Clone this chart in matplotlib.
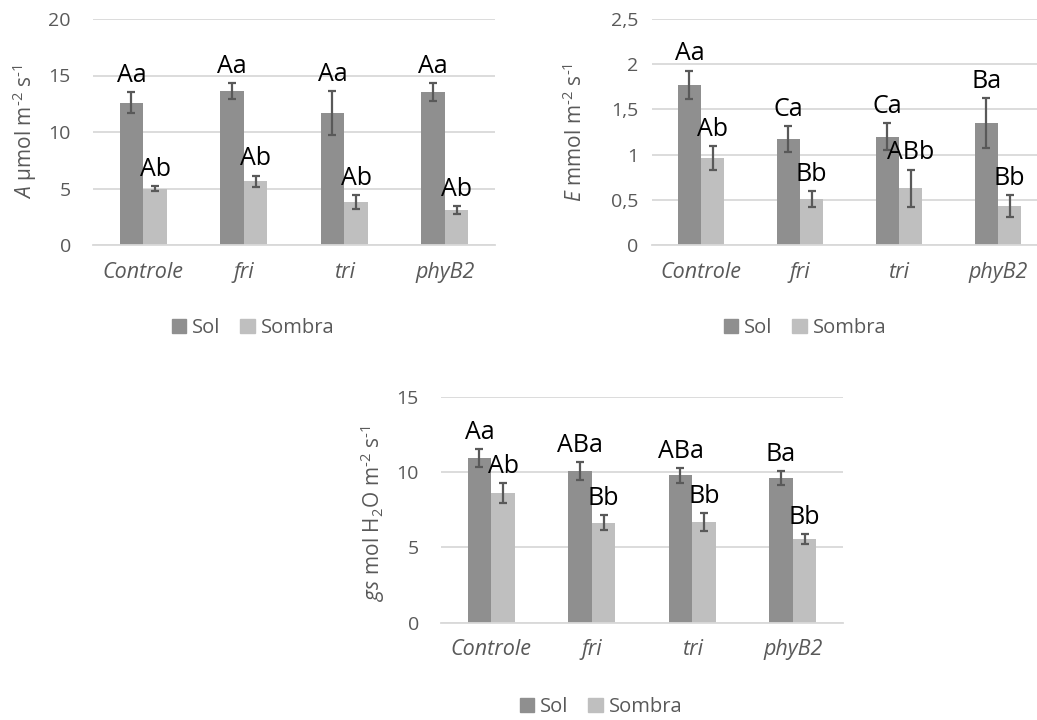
import matplotlib
matplotlib.use('Agg')
import matplotlib.pyplot as plt
from matplotlib.ticker import FuncFormatter, MultipleLocator
from matplotlib.patches import Patch
import numpy as np

plt.rcParams['font.family'] = ['Open Sans', 'DejaVu Sans']
plt.rcParams['mathtext.fontset'] = 'custom'
plt.rcParams['mathtext.rm'] = 'Open Sans'
plt.rcParams['mathtext.it'] = 'Open Sans:italic'

genotypes = ['Controle', 'fri', 'tri', 'phyB2']

# net photosynthesis A
a_sol = [12.6, 13.6, 11.7, 13.5]
a_sol_err = [0.9, 0.7, 1.95, 0.8]
a_sombra = [5.0, 5.65, 3.8, 3.1]
a_sombra_err = [0.25, 0.5, 0.6, 0.38]
a_sol_lbl = ['Aa', 'Aa', 'Aa', 'Aa']
a_sombra_lbl = ['Ab', 'Ab', 'Ab', 'Ab']

# transpiration E
e_sol = [1.77, 1.17, 1.20, 1.35]
e_sol_err = [0.16, 0.145, 0.146, 0.275]
e_sombra = [0.96, 0.51, 0.63, 0.43]
e_sombra_err = [0.135, 0.09, 0.205, 0.12]
e_sol_lbl = ['Aa', 'Ca', 'Ca', 'Ba']
e_sombra_lbl = ['Ab', 'Bb', 'ABb', 'Bb']

# stomatal conductance gs
g_sol = [10.93, 10.07, 9.78, 9.6]
g_sol_err = [0.6, 0.6, 0.49, 0.48]
g_sombra = [8.6, 6.62, 6.66, 5.55]
g_sombra_err = [0.68, 0.5, 0.6, 0.35]
g_sol_lbl = ['Aa', 'ABa', 'ABa', 'Ba']
g_sombra_lbl = ['Ab', 'Bb', 'Bb', 'Bb']

c_sol = '#8F8F8F'
c_sombra = '#BFBFBF'
c_grid = '#D9D9D9'
c_text = '#595959'

W, H = 1037, 720
fig = plt.figure(figsize=(W / 100, H / 100), dpi=100)


def px_axes(left, top, right, bottom):
    return fig.add_axes([left / W, 1 - bottom / H, (right - left) / W, (bottom - top) / H])


def draw(ax, sol, sol_err, sombra, sombra_err, sol_lbl, sombra_lbl, ymax, step, pad, fmt=None):
    x = np.arange(len(genotypes))
    w = 0.235
    ekw = dict(ecolor=c_text, elinewidth=1.6, capsize=3, capthick=1.6)
    ax.bar(x - w / 2, sol, w, yerr=sol_err, color=c_sol, error_kw=ekw, zorder=2)
    ax.bar(x + w / 2, sombra, w, yerr=sombra_err, color=c_sombra, error_kw=ekw, zorder=2)
    for xi, v, e, t in zip(x - w / 2, sol, sol_err, sol_lbl):
        ax.annotate(t, (xi, v + e), xytext=(0, 3), textcoords='offset points',
                    ha='center', va='bottom', fontsize=18, color='black')
    for xi, v, e, t in zip(x + w / 2, sombra, sombra_err, sombra_lbl):
        ax.annotate(t, (xi, v + e), xytext=(0, 3), textcoords='offset points',
                    ha='center', va='bottom', fontsize=18, color='black')
    ax.set_xlim(-0.5, len(genotypes) - 0.5)
    ax.set_ylim(0, ymax)
    ax.yaxis.set_major_locator(MultipleLocator(step))
    if fmt:
        ax.yaxis.set_major_formatter(FuncFormatter(fmt))
    ax.set_xticks(x)
    ax.set_xticklabels(genotypes, fontstyle='italic', fontsize=15.5, color=c_text)
    ax.tick_params(axis='x', length=0, pad=12)
    ax.tick_params(axis='y', length=0, pad=pad, labelsize=14, labelcolor=c_text)
    ax.grid(axis='y', color=c_grid, linewidth=1.3, zorder=0)
    ax.set_axisbelow(True)
    for s in ['top', 'right', 'left']:
        ax.spines[s].set_visible(False)
    ax.spines['bottom'].set_color(c_grid)
    ax.spines['bottom'].set_linewidth(1.3)


def comma(v, pos):
    return f'{v:g}'.replace('.', ',')


ax1 = px_axes(93, 19, 495, 245)
draw(ax1, a_sol, a_sol_err, a_sombra, a_sombra_err, a_sol_lbl, a_sombra_lbl, 20, 5, 16)
fig.text(25 / W, 1 - 132 / H, r'$\mathit{A}$ µmol m$^{‐2}$ s$^{‐1}$', rotation=90,
         ha='center', va='center', fontsize=15, color=c_text)

ax2 = px_axes(651.5, 19, 1047.5, 245)
draw(ax2, e_sol, e_sol_err, e_sombra, e_sombra_err, e_sol_lbl, e_sombra_lbl, 2.5, 0.5, 9.5, comma)
fig.text(575 / W, 1 - 132 / H, r'$\mathit{E}$ mmol m$^{‐2}$ s$^{‐1}$', rotation=90,
         ha='center', va='center', fontsize=15, color=c_text)

ax3 = px_axes(441, 396.7, 843, 622.7)
draw(ax3, g_sol, g_sol_err, g_sombra, g_sombra_err, g_sol_lbl, g_sombra_lbl, 15, 5, 16)
fig.text(373 / W, 1 - 513 / H, r'$\mathit{gs}$ mol H$_2$O m$^{‐2}$ s$^{‐1}$', rotation=90,
         ha='center', va='center', fontsize=15, color=c_text)

handles = [Patch(color=c_sol, label='Sol'), Patch(color=c_sombra, label='Sombra')]
for cx, cy in [(253, 328), (805, 328), (601, 707)]:
    fig.legend(handles=handles, loc='center', bbox_to_anchor=(cx / W, 1 - cy / H), ncol=2,
               frameon=False, fontsize=14.5, labelcolor=c_text, handlelength=0.7,
               handleheight=0.7, handletextpad=0.3, columnspacing=1.0)

fig.savefig('out.png', dpi=100)
